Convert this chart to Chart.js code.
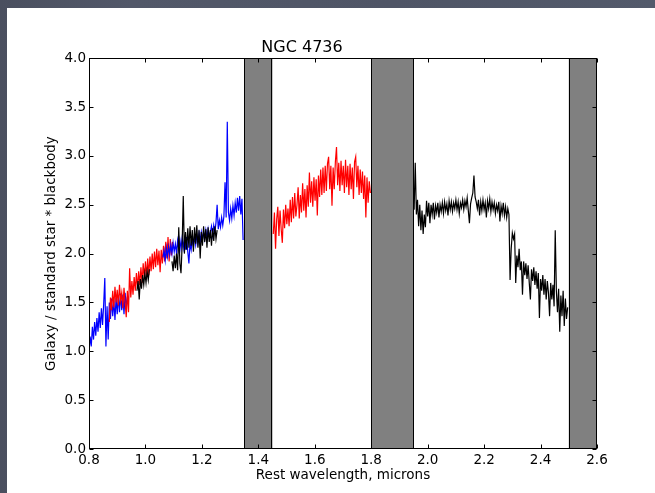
<!DOCTYPE html>
<html>
<head>
<meta charset="utf-8">
<script src="https://cdn.jsdelivr.net/npm/chart.js@4.4.0/dist/chart.umd.min.js"></script>
<style>
  html, body { margin: 0; padding: 0; }
  body {
    width: 655px; height: 493px; overflow: hidden;
    background: #4e5465;
    background-image: linear-gradient(90deg, #4a4f5f 0px, #525869 20%, #4f5566 60%, #535a6b 100%);
    position: relative;
  }
  #panel {
    position: absolute; left: 7px; top: 8px; width: 648px; height: 485px;
    background: #ffffff;
  }
  canvas { display: block; }
</style>
</head>
<body>
<div id="panel"><canvas id="c" width="648" height="485"></canvas></div>
<script>
// ---------------- data ----------------
const titleText = "NGC 4736";
const xLabel = "Rest wavelength, microns";
const yLabel = "Galaxy / standard star * blackbody";

const xTickValues = [0.8, 1.0, 1.2, 1.4, 1.6, 1.8, 2.0, 2.2, 2.4, 2.6];
const yTickValues = [0.0, 0.5, 1.0, 1.5, 2.0, 2.5, 3.0, 3.5, 4.0];

// masked telluric regions (microns)
const bandStarts = [1.35, 1.80, 2.50];
const bandEnds   = [1.45, 1.95, 2.60];

// wavelength grids: start (microns) and step (microns)
const gridStep = 0.004;
const blue1Start = 0.800;
const red1Start = 0.872;
const black1aStart = 0.970;
const black1bStart = 1.094;
const blue2Start = 1.062;
const red2Start = 1.453;
const black2Start = 1.952;

const blue1Flux = [1.00,1.15,1.05,1.25,1.12,1.30,1.16,1.34,1.20,1.40,1.24,1.44,1.27,1.48,1.75,1.05,1.46,1.12,1.50,1.33,
  1.54,1.36,1.52,1.32,1.55,1.38,1.57,1.40,1.59,1.42,1.58,1.38,1.60,1.44,1.56];

const red1Flux = [1.30,1.55,1.42,1.62,1.45,1.66,1.50,1.63,1.47,1.68,1.52,1.60,1.44,1.65,1.50,1.35,1.62,1.40,1.85,1.55,
  1.72,1.58,1.76,1.62,1.80,1.64,1.82,1.68,1.86,1.70,1.90,1.74,1.92,1.76,1.95,1.78,1.97,1.82,2.00,1.84,
  2.02,1.86,2.05,1.88,2.03,1.81,2.04,1.90,2.08,1.92,2.12,1.95,2.17,1.92,2.15,1.98,2.12];

const black1aFlux = [1.62,1.72,1.53,1.74,1.64,1.78,1.68,1.80,1.70,1.82,1.73,1.84];

const black1bFlux = [1.92,1.82,1.98,1.85,2.00,1.83,2.27,1.90,1.80,2.08,2.59,2.00,2.22,2.04,2.26,2.06,2.28,2.08,2.24,2.02,
  2.27,2.10,2.29,2.06,2.24,1.95,2.22,2.08,2.28,2.12,2.25,2.06,2.27,2.12,2.24,2.08,2.26,2.13,2.28,2.15,2.24];

const blue2Flux = [1.96,2.03,1.93,2.06,1.97,2.07,1.99,2.09,2.00,2.11,2.02,2.10,2.01,2.13,2.04,2.14,2.05,2.16,2.06,2.15,
  2.04,2.17,2.02,1.90,2.11,2.04,2.16,2.07,2.18,2.09,2.19,2.11,2.21,2.13,2.22,2.14,2.23,2.15,2.24,2.16,
  2.25,2.17,2.22,2.28,2.19,2.29,2.22,2.32,2.50,2.25,2.34,2.27,2.37,2.29,2.38,2.73,2.37,3.35,2.42,2.34,
  2.46,2.36,2.49,2.39,2.52,2.42,2.57,2.44,2.59,2.40,2.56,2.14];

const red2Flux = [2.20,2.42,2.05,2.35,2.48,2.18,2.44,2.25,2.11,2.45,2.26,2.50,2.30,2.46,2.28,2.55,2.32,2.58,2.36,2.62,
  2.38,2.50,2.68,2.36,2.60,2.42,2.72,2.44,2.66,2.37,2.70,2.48,2.83,2.52,2.74,2.48,2.78,2.54,2.76,2.39,
  2.80,2.58,2.86,2.60,2.88,2.62,2.90,2.64,2.92,2.99,2.66,2.90,2.49,2.88,2.66,2.94,3.09,2.70,2.93,2.64,
  2.95,2.70,2.90,2.62,2.96,2.68,2.90,2.60,2.92,2.66,2.88,2.56,2.94,2.99,2.68,2.90,2.60,2.86,2.62,2.84,
  2.56,2.80,2.37,2.78,2.52,2.74,2.62];

const black2Flux = [2.45,2.93,2.40,2.55,2.28,2.50,2.24,2.44,2.20,2.40,2.27,2.54,2.38,2.52,2.31,2.50,2.40,2.52,2.35,2.49,
  2.42,2.52,2.37,2.50,2.43,2.52,2.41,2.53,2.44,2.51,2.39,2.54,2.45,2.53,2.43,2.52,2.46,2.55,2.45,2.53,
  2.41,2.52,2.47,2.55,2.45,2.54,2.48,2.57,2.44,2.31,2.51,2.57,2.62,2.80,2.58,2.53,2.46,2.55,2.39,2.53,
  2.44,2.55,2.45,2.52,2.37,2.54,2.46,2.56,2.43,2.53,2.45,2.52,2.41,2.50,2.44,2.53,2.33,2.49,2.41,2.52,
  2.39,2.48,2.37,2.46,2.40,1.73,2.05,2.21,2.15,2.20,1.70,1.98,1.86,2.05,1.83,1.92,1.58,1.92,1.78,1.90,
  1.74,1.88,1.70,1.53,1.84,1.72,1.86,1.68,1.82,1.64,1.80,1.34,1.74,1.62,1.78,1.58,1.74,1.53,1.72,1.60,
  1.36,1.70,1.53,1.68,1.46,2.24,1.62,1.40,1.64,1.20,1.57,1.36,1.62,1.26,1.54,1.33,1.45];

// ---------------- chart ----------------
function toPoints(start, flux) {
  return flux.map((f, i) => ({ x: start + i * gridStep, y: f }));
}

const FONT = "'DejaVu Sans', sans-serif";

function seg(label, start, flux, color, order) {
  return {
    label: label,
    data: toPoints(start, flux),
    borderColor: color,
    backgroundColor: color,
    borderWidth: 1.2,
    pointRadius: 0,
    showLine: true,
    fill: false,
    tension: 0,
    order: order
  };
}

const bandsPlugin = {
  id: 'bands',
  beforeDatasetsDraw(chart) {
    const {ctx, chartArea, scales} = chart;
    ctx.save();
    for (let i = 0; i < bandStarts.length; i++) {
      const x0 = scales.x.getPixelForValue(bandStarts[i]);
      const x1 = scales.x.getPixelForValue(bandEnds[i]);
      ctx.fillStyle = '#808080';
      ctx.fillRect(x0, chartArea.top, x1 - x0, chartArea.bottom - chartArea.top);
      ctx.strokeStyle = '#000000';
      ctx.lineWidth = 1;
      ctx.beginPath();
      ctx.moveTo(Math.round(x0) + 0.5, chartArea.top);
      ctx.lineTo(Math.round(x0) + 0.5, chartArea.bottom);
      ctx.moveTo(Math.round(x1) - 0.5, chartArea.top);
      ctx.lineTo(Math.round(x1) - 0.5, chartArea.bottom);
      ctx.stroke();
    }
    ctx.restore();
  }
};

const framePlugin = {
  id: 'frame',
  afterDatasetsDraw(chart) {
    const {ctx, chartArea, scales} = chart;
    const L = Math.round(chartArea.left) + 0.5, R = Math.round(chartArea.right) - 0.5;
    const T = Math.round(chartArea.top) + 0.5, B = Math.round(chartArea.bottom) - 0.5;
    ctx.save();
    ctx.strokeStyle = '#000';
    ctx.lineWidth = 1;
    ctx.strokeRect(L, T, R - L, B - T);
    const tl = 4;
    ctx.beginPath();
    xTickValues.forEach(v => {
      const px = Math.round(scales.x.getPixelForValue(v)) + 0.5;
      ctx.moveTo(px, B); ctx.lineTo(px, B - tl);
      ctx.moveTo(px, T); ctx.lineTo(px, T + tl);
    });
    yTickValues.forEach(v => {
      const py = Math.round(scales.y.getPixelForValue(v)) + 0.5;
      ctx.moveTo(L, py); ctx.lineTo(L + tl, py);
      ctx.moveTo(R, py); ctx.lineTo(R - tl, py);
    });
    ctx.stroke();
    ctx.restore();
  }
};

new Chart(document.getElementById('c'), {
  type: 'scatter',
  data: {
    datasets: [
      seg('order 1a', blue1Start, blue1Flux, '#0000ff', 6),
      seg('order 2a', red1Start, red1Flux, '#ff0000', 5),
      seg('order 3a', black1aStart, black1aFlux, '#000000', 4),
      seg('order 4', blue2Start, blue2Flux, '#0000ff', 3),
      seg('order 3b', black1bStart, black1bFlux, '#000000', 2),
      seg('order 5', red2Start, red2Flux, '#ff0000', 1),
      seg('order 6', black2Start, black2Flux, '#000000', 0)
    ]
  },
  options: {
    responsive: false,
    devicePixelRatio: 1,
    animation: false,
    layout: { padding: { left: 0, right: 58, top: 0, bottom: 0 } },
    plugins: {
      legend: { display: false },
      tooltip: { enabled: false },
      title: {
        display: true,
        text: titleText,
        color: '#000',
        font: { family: FONT, size: 16, weight: 'normal' },
        padding: { top: 30, bottom: 1 }
      }
    },
    scales: {
      x: {
        type: 'linear',
        min: 0.8, max: 2.6,
        afterBuildTicks: s => { s.ticks = xTickValues.map(v => ({ value: v })); },
        afterFit: s => { s.height = 44; },
        grid: { display: false, drawTicks: false },
        border: { display: false },
        ticks: {
          color: '#000', padding: 3, maxRotation: 0, autoSkip: false,
          font: { family: FONT, size: 13.5 },
          callback: v => Number(v).toFixed(1)
        },
        title: {
          display: true, text: xLabel, color: '#000',
          font: { family: FONT, size: 13.5 },
          padding: { top: 0, bottom: 9 }
        }
      },
      y: {
        type: 'linear',
        min: 0, max: 4,
        afterBuildTicks: s => { s.ticks = yTickValues.map(v => ({ value: v })); },
        afterFit: s => { s.width = 82; },
        grid: { display: false, drawTicks: false },
        border: { display: false },
        ticks: {
          color: '#000', padding: 3, autoSkip: false,
          font: { family: FONT, size: 13.5 },
          callback: v => Number(v).toFixed(1)
        },
        title: {
          display: true, text: yLabel, color: '#000',
          font: { family: FONT, size: 13.5 },
          padding: { top: 36, bottom: 0 }
        }
      }
    }
  },
  plugins: [bandsPlugin, framePlugin]
});
</script>
</body>
</html>
